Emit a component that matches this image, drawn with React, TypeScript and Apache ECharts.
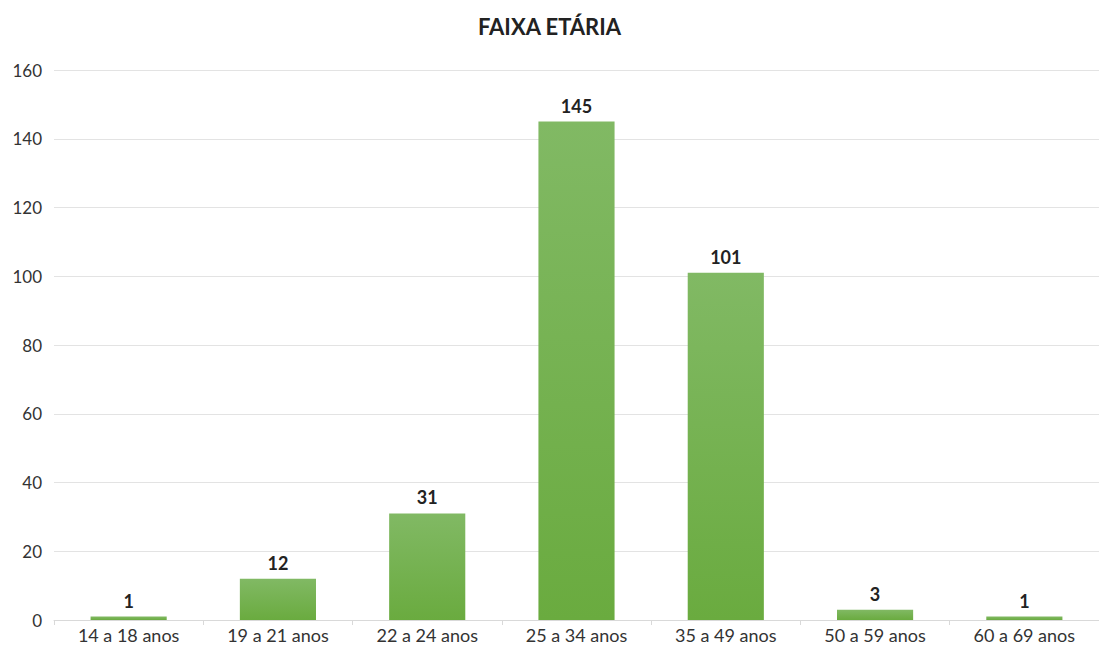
import React, { useEffect, useRef } from "react";
import * as echarts from "echarts";

const categories = ["14 a 18 anos", "19 a 21 anos", "22 a 24 anos", "25 a 34 anos", "35 a 49 anos", "50 a 59 anos", "60 a 69 anos"];
const values = [1, 12, 31, 145, 101, 3, 1];
const chartTitle = "FAIXA ETÁRIA";

export default function App() {
  const ref = useRef<HTMLDivElement>(null);
  useEffect(() => {
    if (!ref.current) return;
    const chart = echarts.init(ref.current, undefined, { renderer: "svg" });
    chart.setOption({
      animation: false,
      backgroundColor: "#ffffff",
      title: {
        text: chartTitle,
        left: "center",
        top: 10,
        textStyle: { fontFamily: "Lato", fontWeight: "bold", fontSize: 22, color: "#222" },
      },
      grid: { left: 54, right: -3, top: 70, bottom: 32, containLabel: false },
      xAxis: {
        type: "category",
        data: categories,
        axisLine: { lineStyle: { color: "#d9d9d9" } },
        axisTick: { show: true, length: 5, lineStyle: { color: "#d9d9d9" } },
        axisLabel: { fontFamily: "Lato", fontSize: 18, color: "#333", margin: 6 },
      },
      yAxis: {
        type: "value",
        min: 0,
        max: 160,
        interval: 20,
        axisLine: { show: false },
        axisTick: { show: false },
        splitLine: { lineStyle: { color: "#e3e3e3" } },
        axisLabel: { fontFamily: "Lato", fontSize: 17, color: "#333", margin: 12 },
      },
      series: [
        {
          type: "bar",
          data: values,
          barWidth: "51%",
          itemStyle: {
            color: new echarts.graphic.LinearGradient(0, 0, 0, 1, [
              { offset: 0, color: "#81b964" },
              { offset: 1, color: "#6aab3f" },
            ]),
          },
          label: {
            show: true,
            position: "top",
            distance: 7,
            fontFamily: "Lato",
            fontWeight: "bold",
            fontSize: 18,
            color: "#222",
          },
        },
      ],
    });
    return () => chart.dispose();
  }, []);
  return <div ref={ref} style={{ position: "fixed", left: 0, top: 0, width: 1099, height: 652 }} />;
}
